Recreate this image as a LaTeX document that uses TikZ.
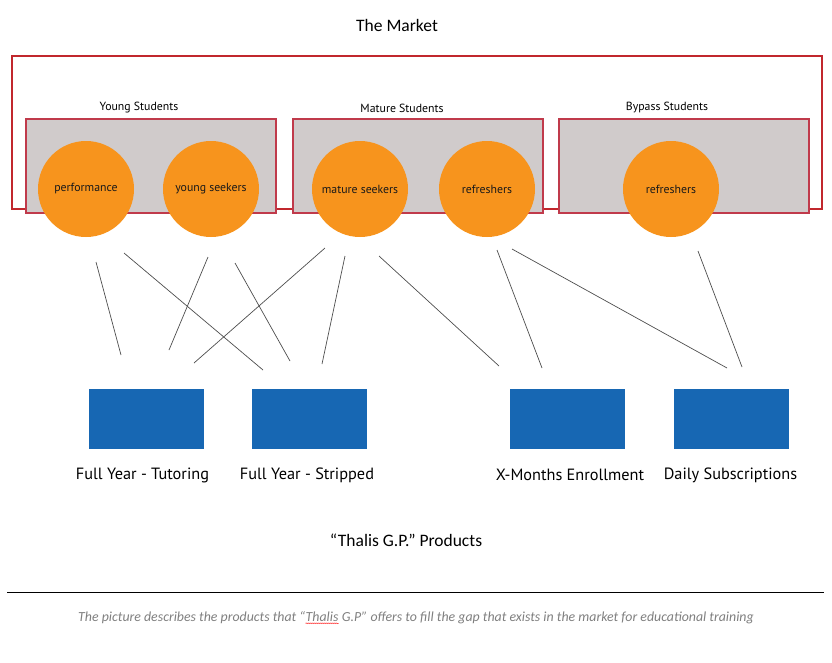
\documentclass[tikz,border=0pt]{standalone}
\usepackage{fontspec}
\setmainfont{PT Sans}
\newfontfamily\calfont{Carlito}
\usetikzlibrary{decorations.pathmorphing}
\definecolor{mktred}{HTML}{C1272D}
\definecolor{segred}{HTML}{C03A4B}
\definecolor{segfill}{HTML}{D0CBCB}
\definecolor{grporange}{HTML}{F7941D}
\definecolor{prodblue}{HTML}{1767B3}
\definecolor{linkgray}{HTML}{4D4D4D}
\definecolor{capgray}{HTML}{7F7F7F}
\begin{document}
\begin{tikzpicture}[x=1pt,y=-1pt,
  segbox/.style={draw=segred,line width=1.3pt,fill=segfill,minimum width=250pt,minimum height=94pt,inner sep=0},
  seglabel/.style={font=\fontsize{11.8}{13}\selectfont},
  group/.style={circle,fill=grporange,minimum size=96pt,inner sep=0,text=black!90,font=\fontsize{11.8}{13}\selectfont},
  product/.style={fill=prodblue,minimum width=115pt,minimum height=60pt,inner sep=0},
  prodlabel/.style={font=\fontsize{16.3}{18}\selectfont},
  caption/.style={inner sep=0,text=capgray,font=\calfont\itshape\fontsize{13.85}{15}\selectfont},
  link/.style={draw=linkgray,line width=0.7pt}]
  \useasboundingbox (0,0) rectangle (832,662);
  \node[font=\calfont\fontsize{17.5}{19}\selectfont] (market) at (397,25) {The Market};
  \draw[mktred,line width=1.2pt] (12,56) rectangle (822,209);
  % market segments
  \foreach \n/\x/\lx/\t in {young/151/139/Young Students,mature/418/402/Mature Students,bypass/684/667/Bypass Students}{
    \node[segbox] (\n) at (\x,166) {};
    \node[seglabel] (\n-lbl) at (\lx,108) {\t};}
  % customer groups
  \foreach \n/\x/\t in {perf/86/performance,yseek/211/young seekers,mseek/360/mature seekers,refa/487/refreshers,refb/671/refreshers}{
    \node[group] (\n) at (\x,189) {\t};}
  % products
  \foreach \n/\x/\lx/\t in {tutor/146.5/142.5/Full Year - Tutoring,strip/309.5/307/Full Year - Stripped,xmon/567.5/570/X-Months Enrollment,daily/731.5/730.5/Daily Subscriptions}{
    \node[product] (\n) at (\x,419) {};
    \node[prodlabel] (\n-lbl) at (\lx,475) {\t};}
  % links
  \foreach \from/\to/\xa/\ya/\xb/\yb in {perf/tutor/96/262/121/355,perf/strip/124/253/263/370,
      yseek/tutor/208/257/169/350,yseek/strip/235/263/290/361,mseek/tutor/325/248/194/363,
      mseek/strip/345/256/322/364,mseek/xmon/379/256/499/366,refa/xmon/497/250/542/368,
      refa/daily/512/249/727/368,refb/daily/698/251/742/367}{
    \coordinate (\from-\to-a) at (\xa,\ya);
    \coordinate (\from-\to-b) at (\xb,\yb);
    \draw[link] (\from-\to-a) -- (\from-\to-b);}
  \node[font=\calfont\fontsize{17.5}{19}\selectfont] (thalis) at (406,540) {“Thalis G.P.” Products};
  \draw[line width=1pt] (7,592) -- (824,592);
  % caption
  \node[caption,anchor=base west] (cap-a) at (78,621) {The picture describes the products that “};
  \node[caption,anchor=base west] (cap-t) at (cap-a.base east) {Thalis};
  \node[caption,anchor=base west] (cap-b) at (cap-t.base east) {\ G.P” offers to fill the gap that exists in the market for educational training};
  \draw[red,line width=0.4pt,decorate,decoration={snake,amplitude=0.5pt,segment length=2pt}]
    ([yshift=-2pt]cap-t.south west) -- ([yshift=-2pt]cap-t.south east);
\end{tikzpicture}
\end{document}
